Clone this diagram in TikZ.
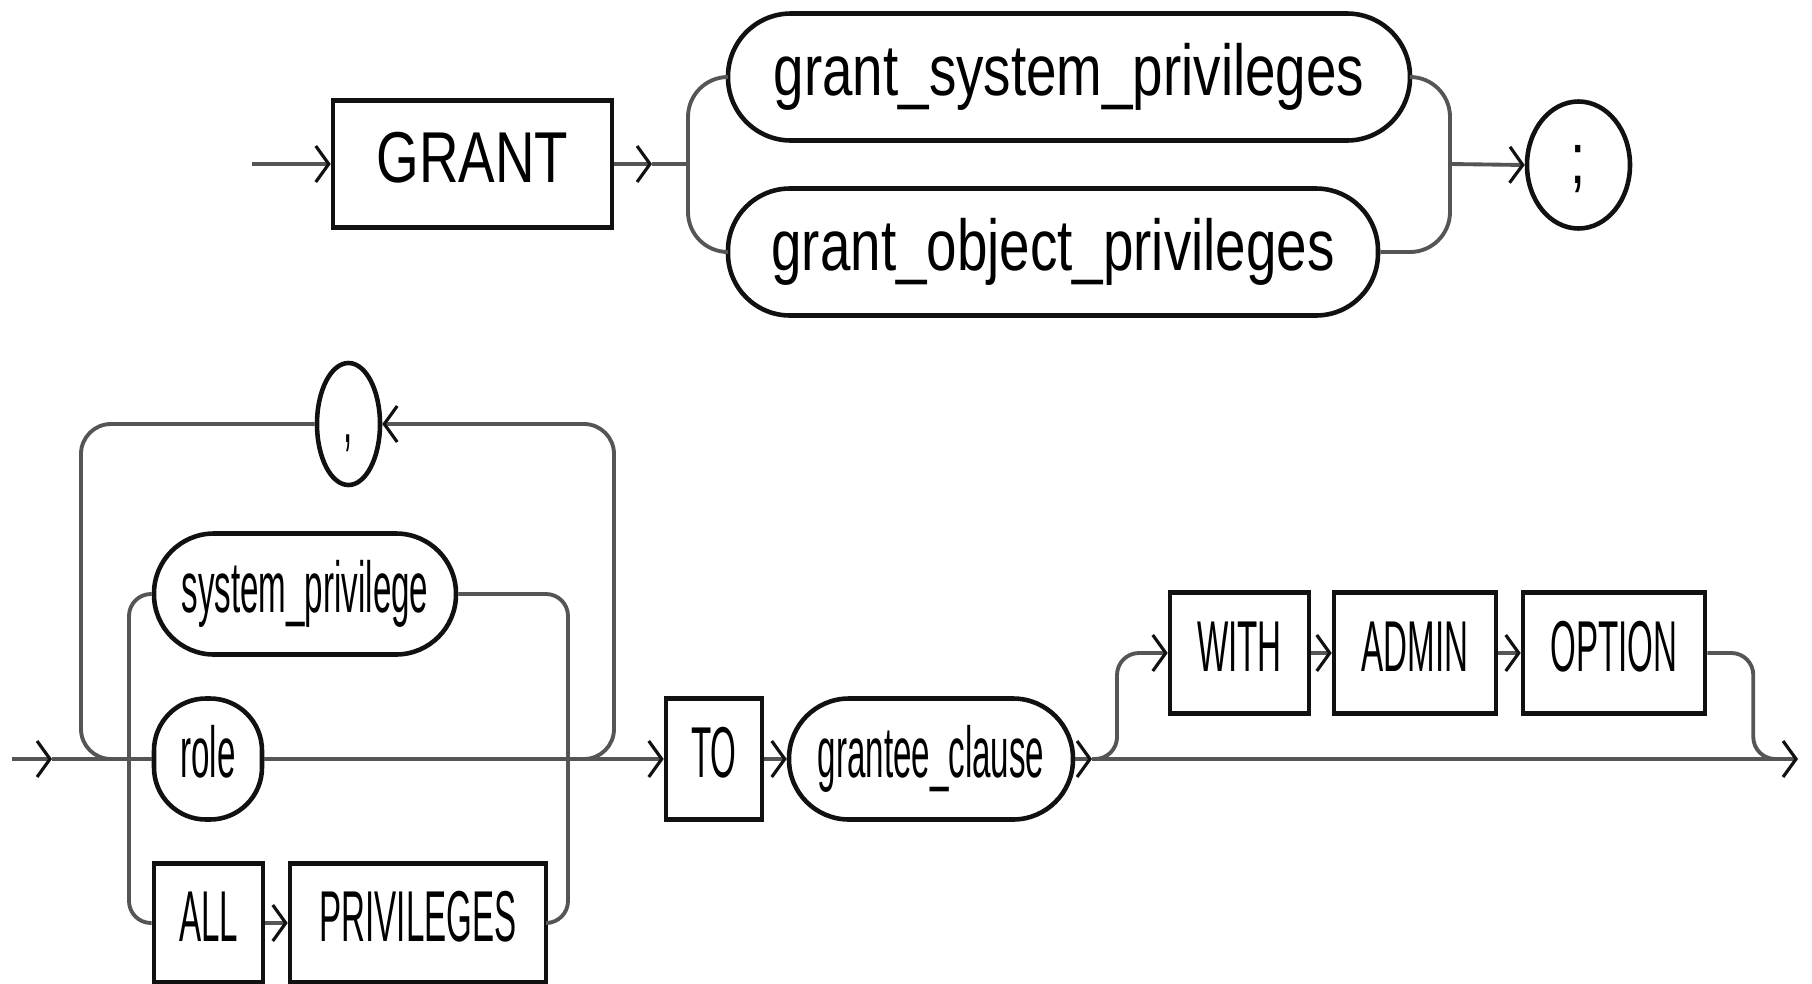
\documentclass[tikz,border=0pt]{standalone}
\usepackage{fontspec}
\setmainfont{Liberation Sans}
\newfontfamily\RRwide{Liberation Sans}[FakeStretch=0.76]
\newfontfamily\RRnarrow{Liberation Sans}[FakeStretch=0.46]
\definecolor{RRInk}{HTML}{111111}
\definecolor{RRWire}{HTML}{555555}
\usetikzlibrary{arrows.meta,shapes.geometric,calc}

\begin{document}
\begin{tikzpicture}[
    wire/.style={RRWire,line width=1.1pt},
    chev/.style={-{Straight Barb[length=1.3mm,width=3.6mm,line width=0.9pt,color=RRInk]}},
    kw/.style={draw=RRInk,line width=1.3pt,rectangle,inner sep=0pt},
    ref/.style={draw=RRInk,line width=1.3pt,rectangle,inner sep=0pt},
    lit/.style={draw=RRInk,line width=1.3pt,ellipse,inner sep=0pt},
    rowA/.style={font=\RRwide\fontsize{20.5}{24}\selectfont,minimum height=1.27cm,text height=14.7pt,text depth=4.2pt},
    rowB/.style={font=\RRnarrow\fontsize{20.5}{24}\selectfont,minimum height=1.21cm,text height=14.7pt,text depth=4.2pt}
  ]
    \useasboundingbox (0,0) rectangle (18.12,-9.84);

    % GRANT statement
    \node[kw,rowA,minimum width=2.79cm] (grant) at (4.725,-1.64) {GRANT};
    \node[ref,rowA,rounded corners=0.63cm,minimum width=6.82cm] (gsp) at (10.69,-0.77) {grant\_system\_privileges};
    \node[ref,rowA,rounded corners=0.62cm,minimum width=6.50cm] (gop) at (10.53,-2.52) {grant\_object\_privileges};
    \node[lit,rowA,minimum width=1.03cm] (semi) at (15.785,-1.65) {;};
    \coordinate (in1) at (2.52,-1.64);
    \coordinate (c1) at (6.52,-1.64);
    \coordinate (sp1) at (6.88,-1.64);
    \coordinate (jn1) at (14.50,-1.64);
    \draw[wire,chev] (in1) -- (grant.west);
    \draw[wire,chev] (grant.east) -- (c1);
    \draw[wire] (c1) -- (sp1);
    \draw[wire,rounded corners=0.4cm] (gsp.west) -| (sp1) |- (gop.west);
    \draw[wire,rounded corners=0.4cm] (gsp.east) -| (jn1) |- (gop.east);
    \draw[wire,chev] (jn1) -- (semi.west);

    % grant_system_privileges
    \node[lit,rowB,minimum width=0.63cm,minimum height=1.22cm] (comma) at (3.485,-4.24) {,};
    \node[ref,rowB,rounded corners=0.6cm,minimum width=3.02cm] (sysp) at (3.05,-5.94) {system\_privilege};
    \node[ref,rowB,rounded corners=0.52cm,minimum width=1.08cm] (role) at (2.08,-7.59) {role};
    \node[kw,rowB,minimum width=1.09cm,minimum height=1.19cm] (all) at (2.085,-9.23) {ALL};
    \node[kw,rowB,minimum width=2.56cm,minimum height=1.19cm] (priv) at (4.18,-9.23) {PRIVILEGES};
    \node[kw,rowB,minimum width=0.96cm] (to) at (7.14,-7.59) {TO};
    \node[ref,rowB,rounded corners=0.6cm,minimum width=2.84cm] (grantee) at (9.31,-7.59) {grantee\_clause};
    \node[kw,rowB,minimum width=1.39cm] (with) at (12.395,-6.53) {WITH};
    \node[kw,rowB,minimum width=1.62cm] (admin) at (14.15,-6.53) {ADMIN};
    \node[kw,rowB,minimum width=1.82cm] (option) at (16.14,-6.53) {OPTION};
    \coordinate (in2) at (0.12,-7.59);
    \coordinate (c2) at (0.52,-7.59);
    \coordinate (lpL) at (0.81,-7.59);
    \coordinate (altL) at (1.29,-7.59);
    \coordinate (altR) at (5.68,-7.59);
    \coordinate (lpR) at (6.14,-7.59);
    \coordinate (c3) at (10.92,-7.59);
    \coordinate (out2) at (17.98,-7.59);
    \draw[wire,chev] (in2) -- (c2);
    \draw[wire] (c2) -- (role.west);
    \draw[wire,chev] (role.east) -- (to.west);
    % repeat with comma
    \draw[wire,rounded corners=0.3cm] (comma.west) -| (lpL) -- (altL);
    \draw[wire,rounded corners=0.3cm,chev] (altR) -- (lpR) |- (comma.east);
    % choices
    \draw[wire,rounded corners=0.22cm] (sysp.west) -| (altL) |- (all.west);
    \draw[wire,rounded corners=0.22cm] (sysp.east) -| (altR) |- (priv.east);
    \draw[wire,chev] (all.east) -- (priv.west);
    \draw[wire,chev] (to.east) -- (grantee.west);
    \draw[wire,chev] (grantee.east) -- (c3);
    \draw[wire,chev] (c3) -- (out2);
    % WITH ADMIN OPTION
    \draw[wire,rounded corners=0.22cm,chev] (c3) -- ++(0.25,0) |- (with.west);
    \draw[wire,chev] (with.east) -- (admin.west);
    \draw[wire,chev] (admin.east) -- (option.west);
    \draw[wire,rounded corners=0.22cm] (option.east) -| ++(0.46,-1.06) -- ++(0.24,0);
\end{tikzpicture}
\end{document}
